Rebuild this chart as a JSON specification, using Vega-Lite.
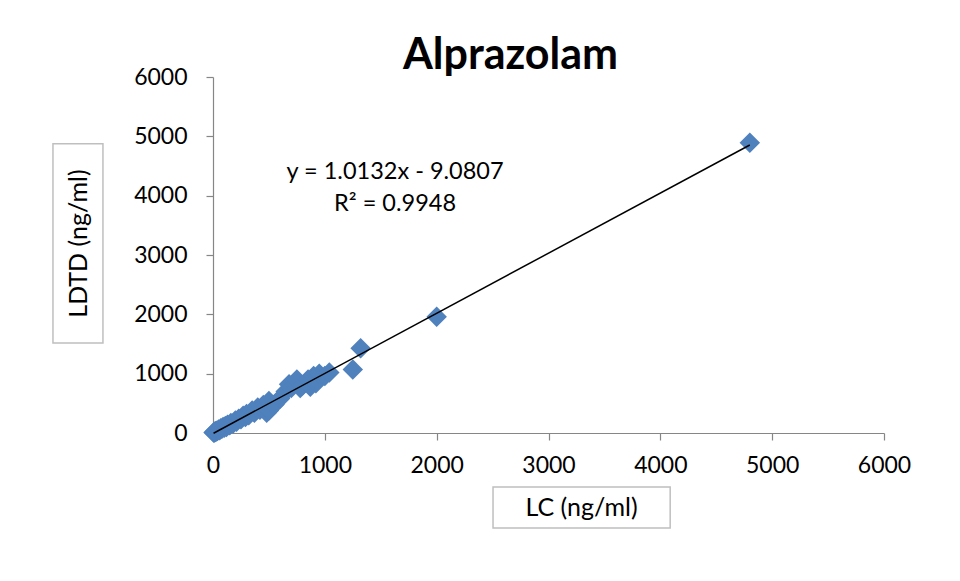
{
  "$schema": "https://vega.github.io/schema/vega-lite/v6.json",
  "width": 671,
  "height": 356,
  "autosize": {"type": "none"},
  "padding": {"left": 213, "top": 77, "right": 76, "bottom": 148},
  "background": "white",
  "config": {
    "view": {"stroke": null},
    "font": "Lato",
    "axis": {
      "grid": false,
      "domainColor": "#868686",
      "tickColor": "#868686",
      "domainWidth": 1.2,
      "tickWidth": 1.2,
      "tickSize": 7,
      "labelFont": "Lato",
      "labelFontSize": 23,
      "labelColor": "black",
      "labelFlush": false,
      "labelOverlap": false,
      "format": "d",
      "titleFont": "Lato",
      "titleFontSize": 25,
      "titleFontWeight": "normal",
      "titleColor": "black"
    }
  },
  "title": {
    "text": "Alprazolam",
    "font": "Lato",
    "fontSize": 43,
    "fontWeight": "bold",
    "color": "black",
    "anchor": "middle",
    "dx": -38,
    "offset": -12
  },
  "datasets": {
    "samples": [
      {"lc": 5, "ldtd": 10}, {"lc": 10, "ldtd": 5}, {"lc": 15, "ldtd": 20}, {"lc": 20, "ldtd": 30},
      {"lc": 25, "ldtd": 15}, {"lc": 30, "ldtd": 40}, {"lc": 40, "ldtd": 35}, {"lc": 50, "ldtd": 60},
      {"lc": 60, "ldtd": 45}, {"lc": 70, "ldtd": 80}, {"lc": 80, "ldtd": 70}, {"lc": 90, "ldtd": 100},
      {"lc": 100, "ldtd": 90}, {"lc": 110, "ldtd": 120}, {"lc": 120, "ldtd": 100}, {"lc": 130, "ldtd": 140},
      {"lc": 150, "ldtd": 130}, {"lc": 160, "ldtd": 170}, {"lc": 180, "ldtd": 160}, {"lc": 200, "ldtd": 210},
      {"lc": 210, "ldtd": 190}, {"lc": 230, "ldtd": 240}, {"lc": 250, "ldtd": 230}, {"lc": 270, "ldtd": 290},
      {"lc": 290, "ldtd": 270}, {"lc": 300, "ldtd": 320}, {"lc": 320, "ldtd": 300}, {"lc": 350, "ldtd": 380},
      {"lc": 370, "ldtd": 340}, {"lc": 400, "ldtd": 430}, {"lc": 420, "ldtd": 390}, {"lc": 450, "ldtd": 470},
      {"lc": 480, "ldtd": 440}, {"lc": 480, "ldtd": 340}, {"lc": 500, "ldtd": 540}, {"lc": 500, "ldtd": 380},
      {"lc": 550, "ldtd": 480}, {"lc": 600, "ldtd": 580}, {"lc": 650, "ldtd": 700}, {"lc": 680, "ldtd": 820},
      {"lc": 700, "ldtd": 760}, {"lc": 750, "ldtd": 900}, {"lc": 780, "ldtd": 760}, {"lc": 800, "ldtd": 800},
      {"lc": 850, "ldtd": 900}, {"lc": 870, "ldtd": 780}, {"lc": 900, "ldtd": 960}, {"lc": 920, "ldtd": 840},
      {"lc": 950, "ldtd": 1000}, {"lc": 1000, "ldtd": 960}, {"lc": 1040, "ldtd": 1020}, {"lc": 1250, "ldtd": 1070},
      {"lc": 1320, "ldtd": 1430}, {"lc": 2000, "ldtd": 1960}, {"lc": 4800, "ldtd": 4890}
    ],
    "trend": [
      {"lc": 5, "ldtd": -4.01},
      {"lc": 4800, "ldtd": 4854.28}
    ],
    "equation": [
      {"line1": "y = 1.0132x - 9.0807", "line2": "R² = 0.9948"}
    ]
  },
  "layer": [
    {
      "data": {"values": [{}]},
      "mark": {"type": "rect", "fill": null, "stroke": "#BFBFBF", "strokeWidth": 1.5},
      "encoding": {
        "x": {"datum": -1431, "type": "quantitative", "scale": {"domain": [0, 6000]}},
        "x2": {"datum": -984},
        "y": {"datum": 4874, "type": "quantitative", "scale": {"domain": [0, 6000]}},
        "y2": {"datum": 1518}
      }
    },
    {
      "data": {"values": [{}]},
      "mark": {"type": "rect", "fill": null, "stroke": "#BFBFBF", "strokeWidth": 1.5},
      "encoding": {
        "x": {"datum": 2504, "type": "quantitative"},
        "x2": {"datum": 4088},
        "y": {"datum": -911, "type": "quantitative"},
        "y2": {"datum": -1602}
      }
    },
    {
      "data": {"name": "samples"},
      "mark": {"type": "point", "shape": "diamond", "filled": true, "size": 420, "color": "#4F81BD", "opacity": 1},
      "encoding": {
        "x": {
          "field": "lc", "type": "quantitative",
          "scale": {"domain": [0, 6000], "nice": false, "zero": false},
          "axis": {
            "values": [0, 1000, 2000, 3000, 4000, 5000, 6000],
            "labelPadding": 14,
            "title": "LC (ng/ml)",
            "titleX": 368,
            "titleY": 74,
            "titleAnchor": null,
            "titleAlign": "center",
            "titleBaseline": "middle",
            "titlePadding": 0
          }
        },
        "y": {
          "field": "ldtd", "type": "quantitative",
          "scale": {"domain": [0, 6000], "nice": false, "zero": false},
          "axis": {
            "values": [0, 1000, 2000, 3000, 4000, 5000, 6000],
            "labelPadding": 19,
            "title": "LDTD (ng/ml)",
            "titleX": -135,
            "titleY": 166,
            "titleAngle": -90,
            "titleAlign": "center",
            "titleBaseline": "middle",
            "titlePadding": 0
          }
        }
      }
    },
    {
      "data": {"name": "trend"},
      "mark": {"type": "line", "color": "black", "strokeWidth": 1.5},
      "encoding": {
        "x": {"field": "lc", "type": "quantitative"},
        "y": {"field": "ldtd", "type": "quantitative"}
      }
    },
    {
      "data": {"name": "equation"},
      "mark": {"type": "text", "font": "Lato", "fontSize": 23.5, "color": "black", "align": "center", "baseline": "middle"},
      "encoding": {
        "x": {"datum": 1628, "type": "quantitative"},
        "y": {"datum": 4401, "type": "quantitative"},
        "text": {"field": "line1"}
      }
    },
    {
      "data": {"name": "equation"},
      "mark": {"type": "text", "font": "Lato", "fontSize": 23.5, "color": "black", "align": "center", "baseline": "middle"},
      "encoding": {
        "x": {"datum": 1628, "type": "quantitative"},
        "y": {"datum": 3862, "type": "quantitative"},
        "text": {"field": "line2"}
      }
    }
  ]
}
